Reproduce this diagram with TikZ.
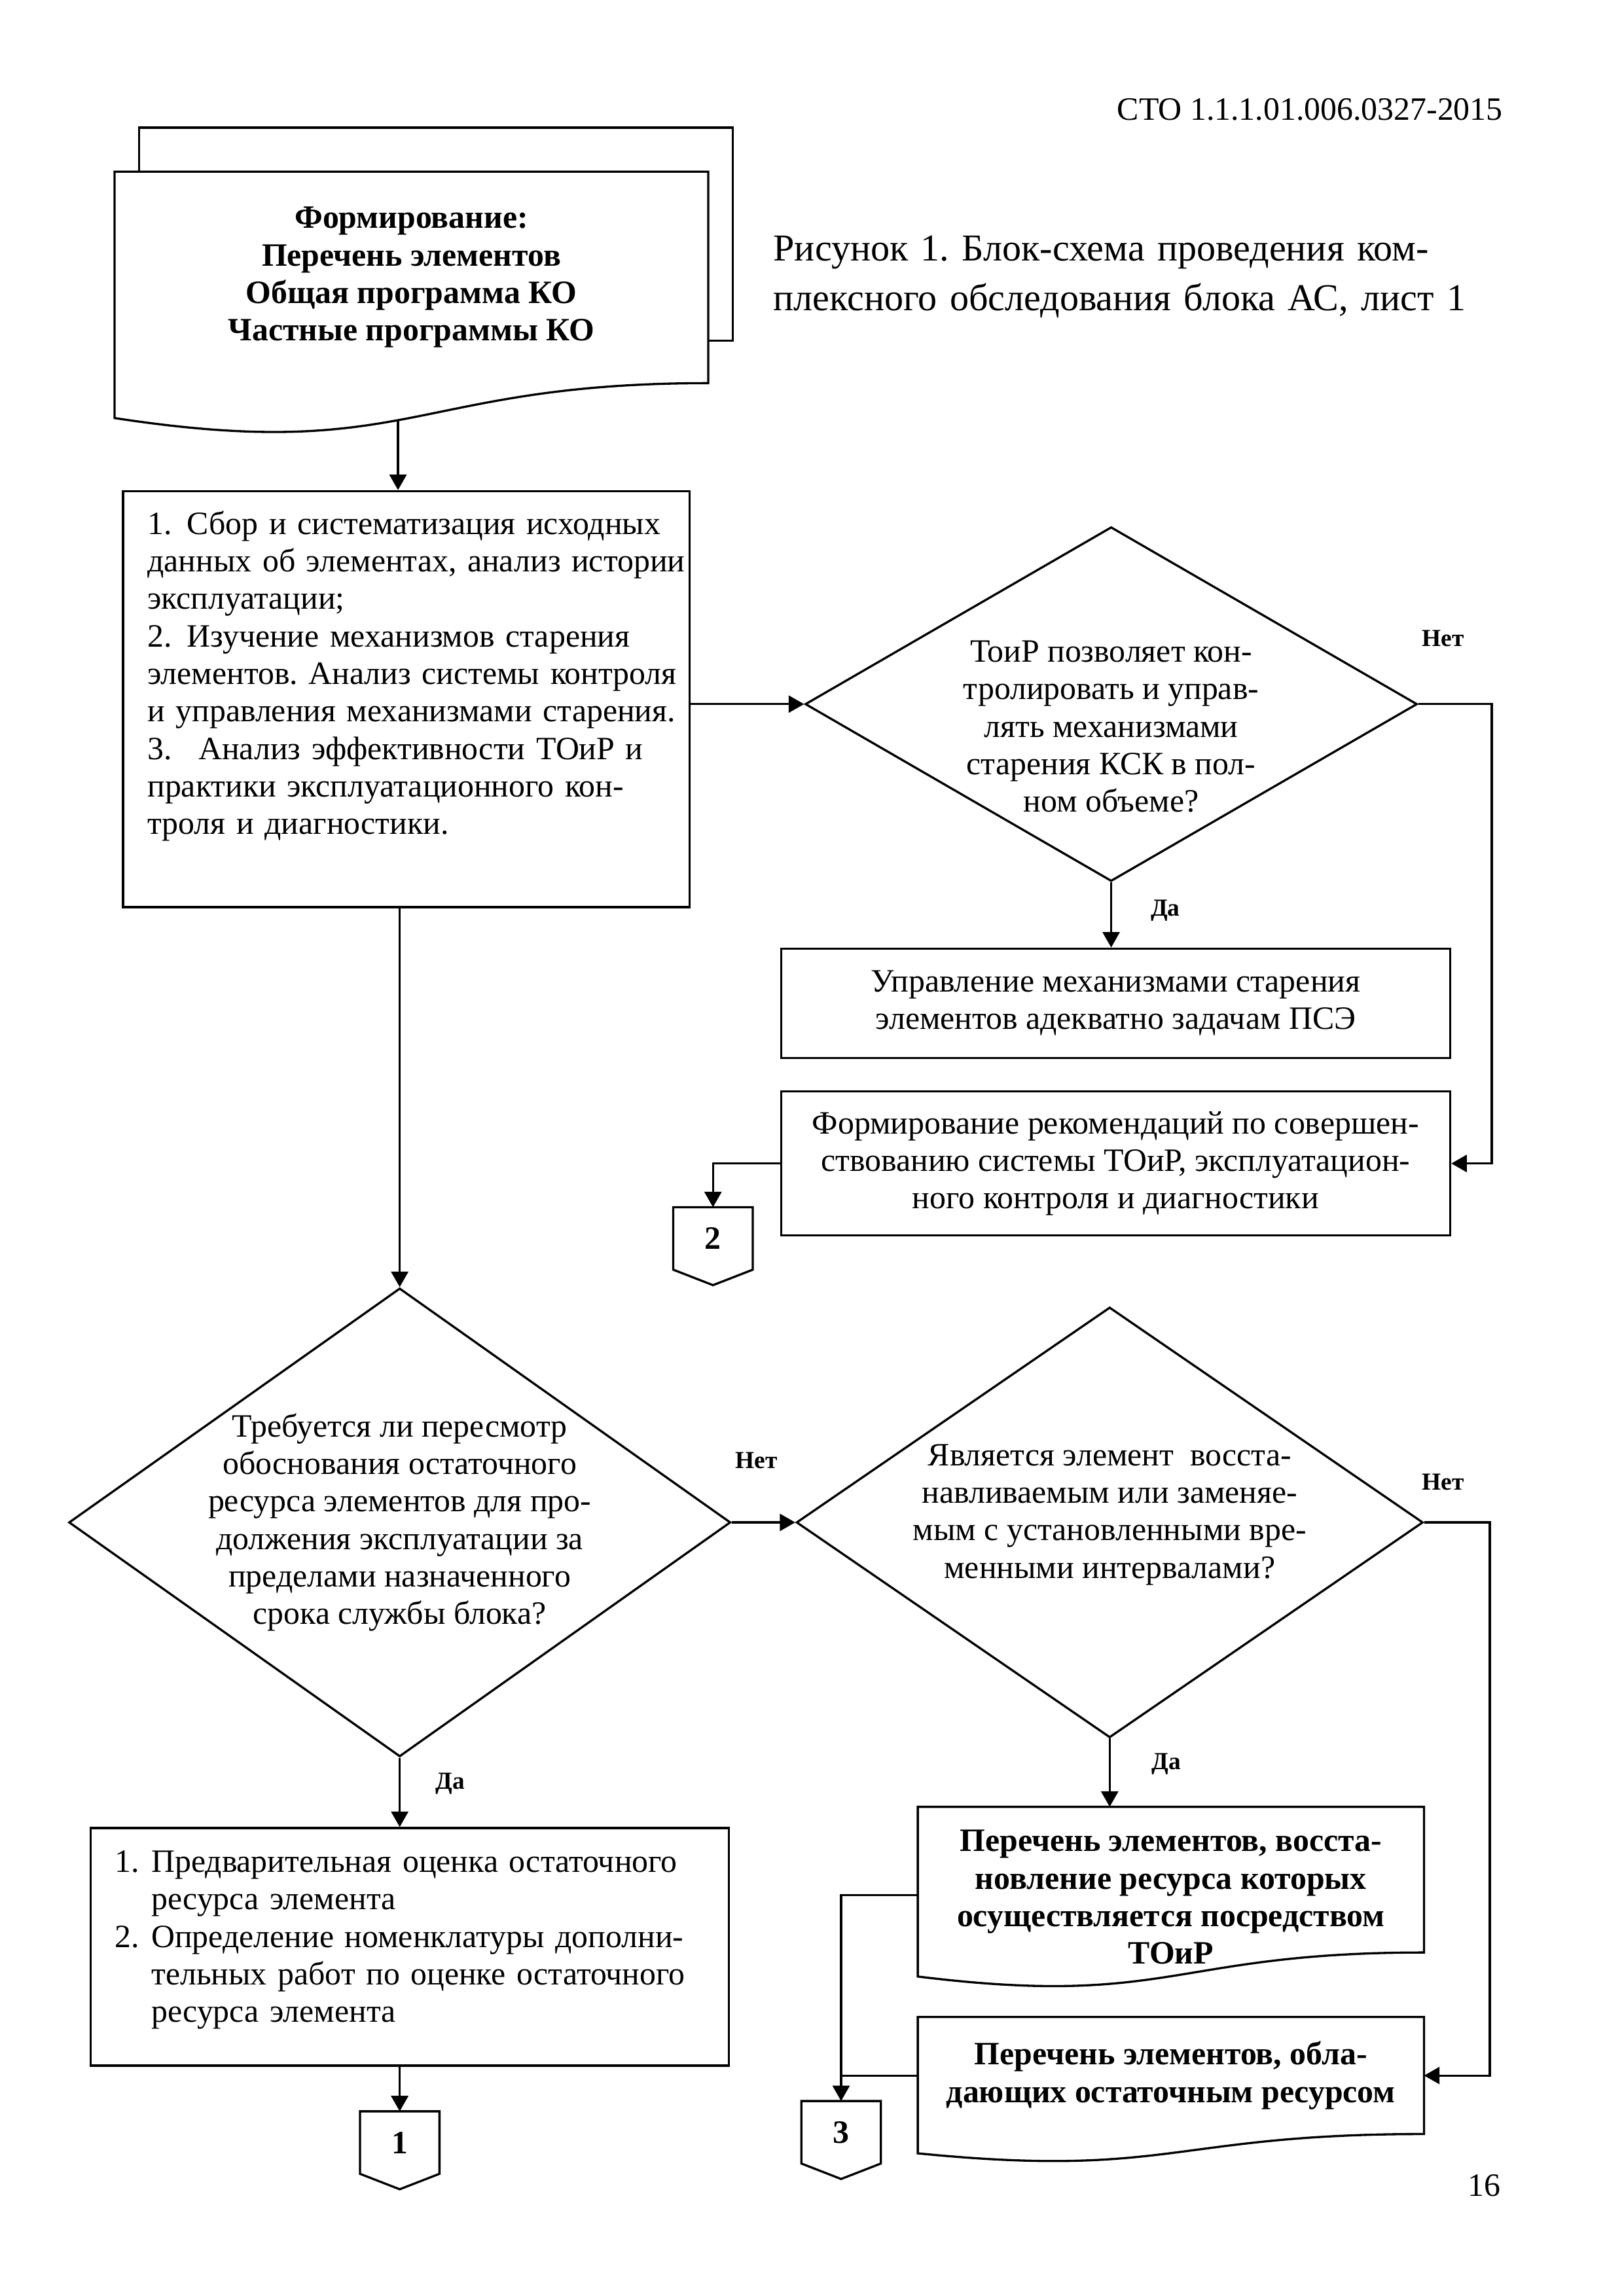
\documentclass[tikz,border=0pt]{standalone}
\usepackage{fontspec}
\setmainfont{Liberation Serif}
\frenchspacing
\usetikzlibrary{arrows.meta,positioning,shapes.geometric,calc}
\newcommand{\docframe}[1]{%
  \draw (#1.north west) -- (#1.north east) -- (#1.south east)
    .. controls (#1.south) and ($(#1.south)!-0.38!(#1.north)$)
    .. ($(#1.south west)!-0.165!(#1.north west)$) coordinate[pos=.53] (#1-w)
    -- cycle;}
\newcommand{\offpage}[1]{%
  \draw (#1.north west) -- (#1.north east) -- (#1.south east)
    -- ([yshift=-2mm]#1.south) -- (#1.south west) -- cycle;}

\begin{document}
\begin{tikzpicture}[line width=0.8pt,
   txt/.style={font=\fontsize{12}{13.8}\selectfont},
   boxnode/.style={draw,rectangle,inner sep=0pt,align=center,txt},
   docnode/.style={rectangle,inner sep=0pt,align=center,font=\fontsize{12}{13.8}\selectfont\bfseries},
   dianode/.style={draw,diamond,inner sep=0pt},
   qtext/.style={txt,align=center,inner sep=0pt},
   conn/.style={rectangle,minimum width=1cm,minimum height=0.78cm,inner sep=0pt,font=\fontsize{12}{14}\selectfont\bfseries},
   lbl/.style={inner sep=0pt,font=\fontsize{9}{10}\selectfont\bfseries},
   arr/.style={-{Triangle[length=2mm,width=2.2mm]}}]
  \useasboundingbox (0,0) rectangle (21,-29.7);
  \node[txt,anchor=base east,inner sep=0pt] (hdr) at (19.45,-1.55) {СТО 1.1.1.01.006.0327-2015};
  \node[anchor=base west,inner sep=0pt,text width=10cm,align=left,font=\fontsize{14}{18.5}\selectfont] (capt) at (9.99,-3.37)
       {Рисунок 1. Блок-схема проведения ком-\\плексного обследования блока АС, лист 1};
  \node[docnode,minimum width=7.65cm,minimum height=2.708cm] (fd) at (5.321,-3.588)
       {Формирование:\\Перечень элементов\\Общая программа КО\\Частные программы КО};
  \docframe{fd}
  \draw ([xshift=3.2mm]fd.north west) -- ++(0,5.7mm) -| ([xshift=3.2mm,yshift=5.5mm]fd.south east) -- ([yshift=5.5mm]fd.south east);
  \node[boxnode,minimum width=7.328cm,minimum height=5.38cm] (b1) at (5.255,-9.043) {};
  \node[txt,anchor=base west,text width=7cm,align=left,inner sep=0pt] (b1t) at (1.894,-6.912)
       {\makebox[5.1mm][l]{1.}Сбор и систематизация исходных\\
        данных об элементах, анализ истории\\
        эксплуатации;\\
        \makebox[5.1mm][l]{2.}Изучение механизмов старения\\
        элементов. Анализ системы контроля\\
        и управления механизмами старения.\\
        \makebox[6.6mm][l]{3.}Анализ эффективности ТОиР и\\
        практики эксплуатационного кон-\\
        троля и диагностики.};
  \node[dianode,minimum width=7.916cm,minimum height=4.583cm] (d1) at (14.372,-9.108) {};
  \node[qtext] (q1) at ([yshift=-2.9mm]d1.center)
       {ТоиР позволяет кон-\\тролировать и управ-\\лять механизмами\\старения КСК в пол-\\ном объеме?};
  \node[boxnode,minimum width=8.654cm,minimum height=1.413cm] (b2) at (14.43,-12.977)
       {Управление механизмами старения\\элементов адекватно задачам ПСЭ};
  \node[boxnode,minimum width=8.654cm,minimum height=1.863cm] (b3) at (14.43,-15.05)
       {Формирование рекомендаций по совершен-\\ствованию системы ТОиР, эксплуатацион-\\ного контроля и диагностики};
  \node[conn] (c2) at (9.222,-16.02) {2};
  \offpage{c2}
  \node[dianode,minimum width=8.559cm,minimum height=6.06cm] (d2) at (5.17,-19.693) {};
  \node[qtext] (q2) at (d2.center)
       {Требуется ли пересмотр\\обоснования остаточного\\ресурса элементов для про-\\должения эксплуатации за\\пределами назначенного\\срока службы блока?};
  \node[dianode,minimum width=8.105cm,minimum height=5.567cm] (d3) at (14.353,-19.693) {};
  \node[qtext] (q3) at ([yshift=1mm]d3.center)
       {Является элемент\ \ восста-\\навливаемым или заменяе-\\мым с установленными вре-\\менными интервалами?};
  \node[boxnode,minimum width=8.256cm,minimum height=3.072cm] (b4) at (5.302,-25.183) {};
  \node[txt,anchor=base west,text width=7.8cm,align=left,inner sep=0pt] (b4t) at (1.469,-24.219)
       {\makebox[4.75mm][l]{1.}Предварительная оценка остаточного\\
        \hspace*{4.75mm}ресурса элемента\\
        \makebox[4.75mm][l]{2.}Определение номенклатуры дополни-\\
        \hspace*{4.75mm}тельных работ по оценке остаточного\\
        \hspace*{4.75mm}ресурса элемента};
  \node[conn] (c1) at (5.17,-27.715) {1};
  \offpage{c1}
  \node[docnode,minimum width=6.52cm,minimum height=1.856cm] (d5) at (15.145,-24.314) {};
  \docframe{d5}
  \node[docnode] (d5t) at (15.145,-24.541)
       {Перечень элементов, восста-\\новление ресурса которых\\осуществляется посредством\\ТОиР};
  \node[docnode,minimum width=6.52cm,minimum height=1.485cm] (d6) at (15.145,-26.848)
       {Перечень элементов, обла-\\дающих остаточным ресурсом};
  \docframe{d6}
  \node[conn] (c3) at (10.879,-27.582) {3};
  \offpage{c3}
  \node[txt,anchor=base east,inner sep=0pt] (pg) at (19.42,-28.41) {16};
  \draw[arr] (fd-w) -- (fd-w |- b1.north);
  \draw[arr] (b1.east |- d1.west) -- (d1.west);
  \draw[arr] (d1.south) -- (d1.south |- b2.north) node[lbl,pos=.43,right=5mm] {Да};
  \draw[arr] (d1.east) -- ++(0.95,0) node[lbl,pos=.34,above=7.3mm] {Нет} |- (b3.east);
  \draw[arr] (b3.west) -| (c2.north);
  \draw[arr] (b1.south -| d2.north) -- (d2.north);
  \draw[arr] (d2.east) -- (d3.west) node[lbl,pos=.39,above=6.8mm] {Нет};
  \draw[arr] (d2.south) -- (d2.south |- b4.north) node[lbl,pos=.37,right=4.5mm] {Да};
  \draw[arr] (b4.south -| c1.north) -- (c1.north);
  \draw[arr] (d3.south) -- (d3.south |- d5.north) node[lbl,pos=.37,right=5.3mm] {Да};
  \draw[arr] (d3.east) -- ++(0.85,0) node[lbl,pos=.29,above=4mm] {Нет} |- (d6.east);
  \draw[arr] ([yshift=-2mm]d5.west) -| (c3.north);
  \draw (d6.west) -- (d6.west -| c3.north);
\end{tikzpicture}
\end{document}
